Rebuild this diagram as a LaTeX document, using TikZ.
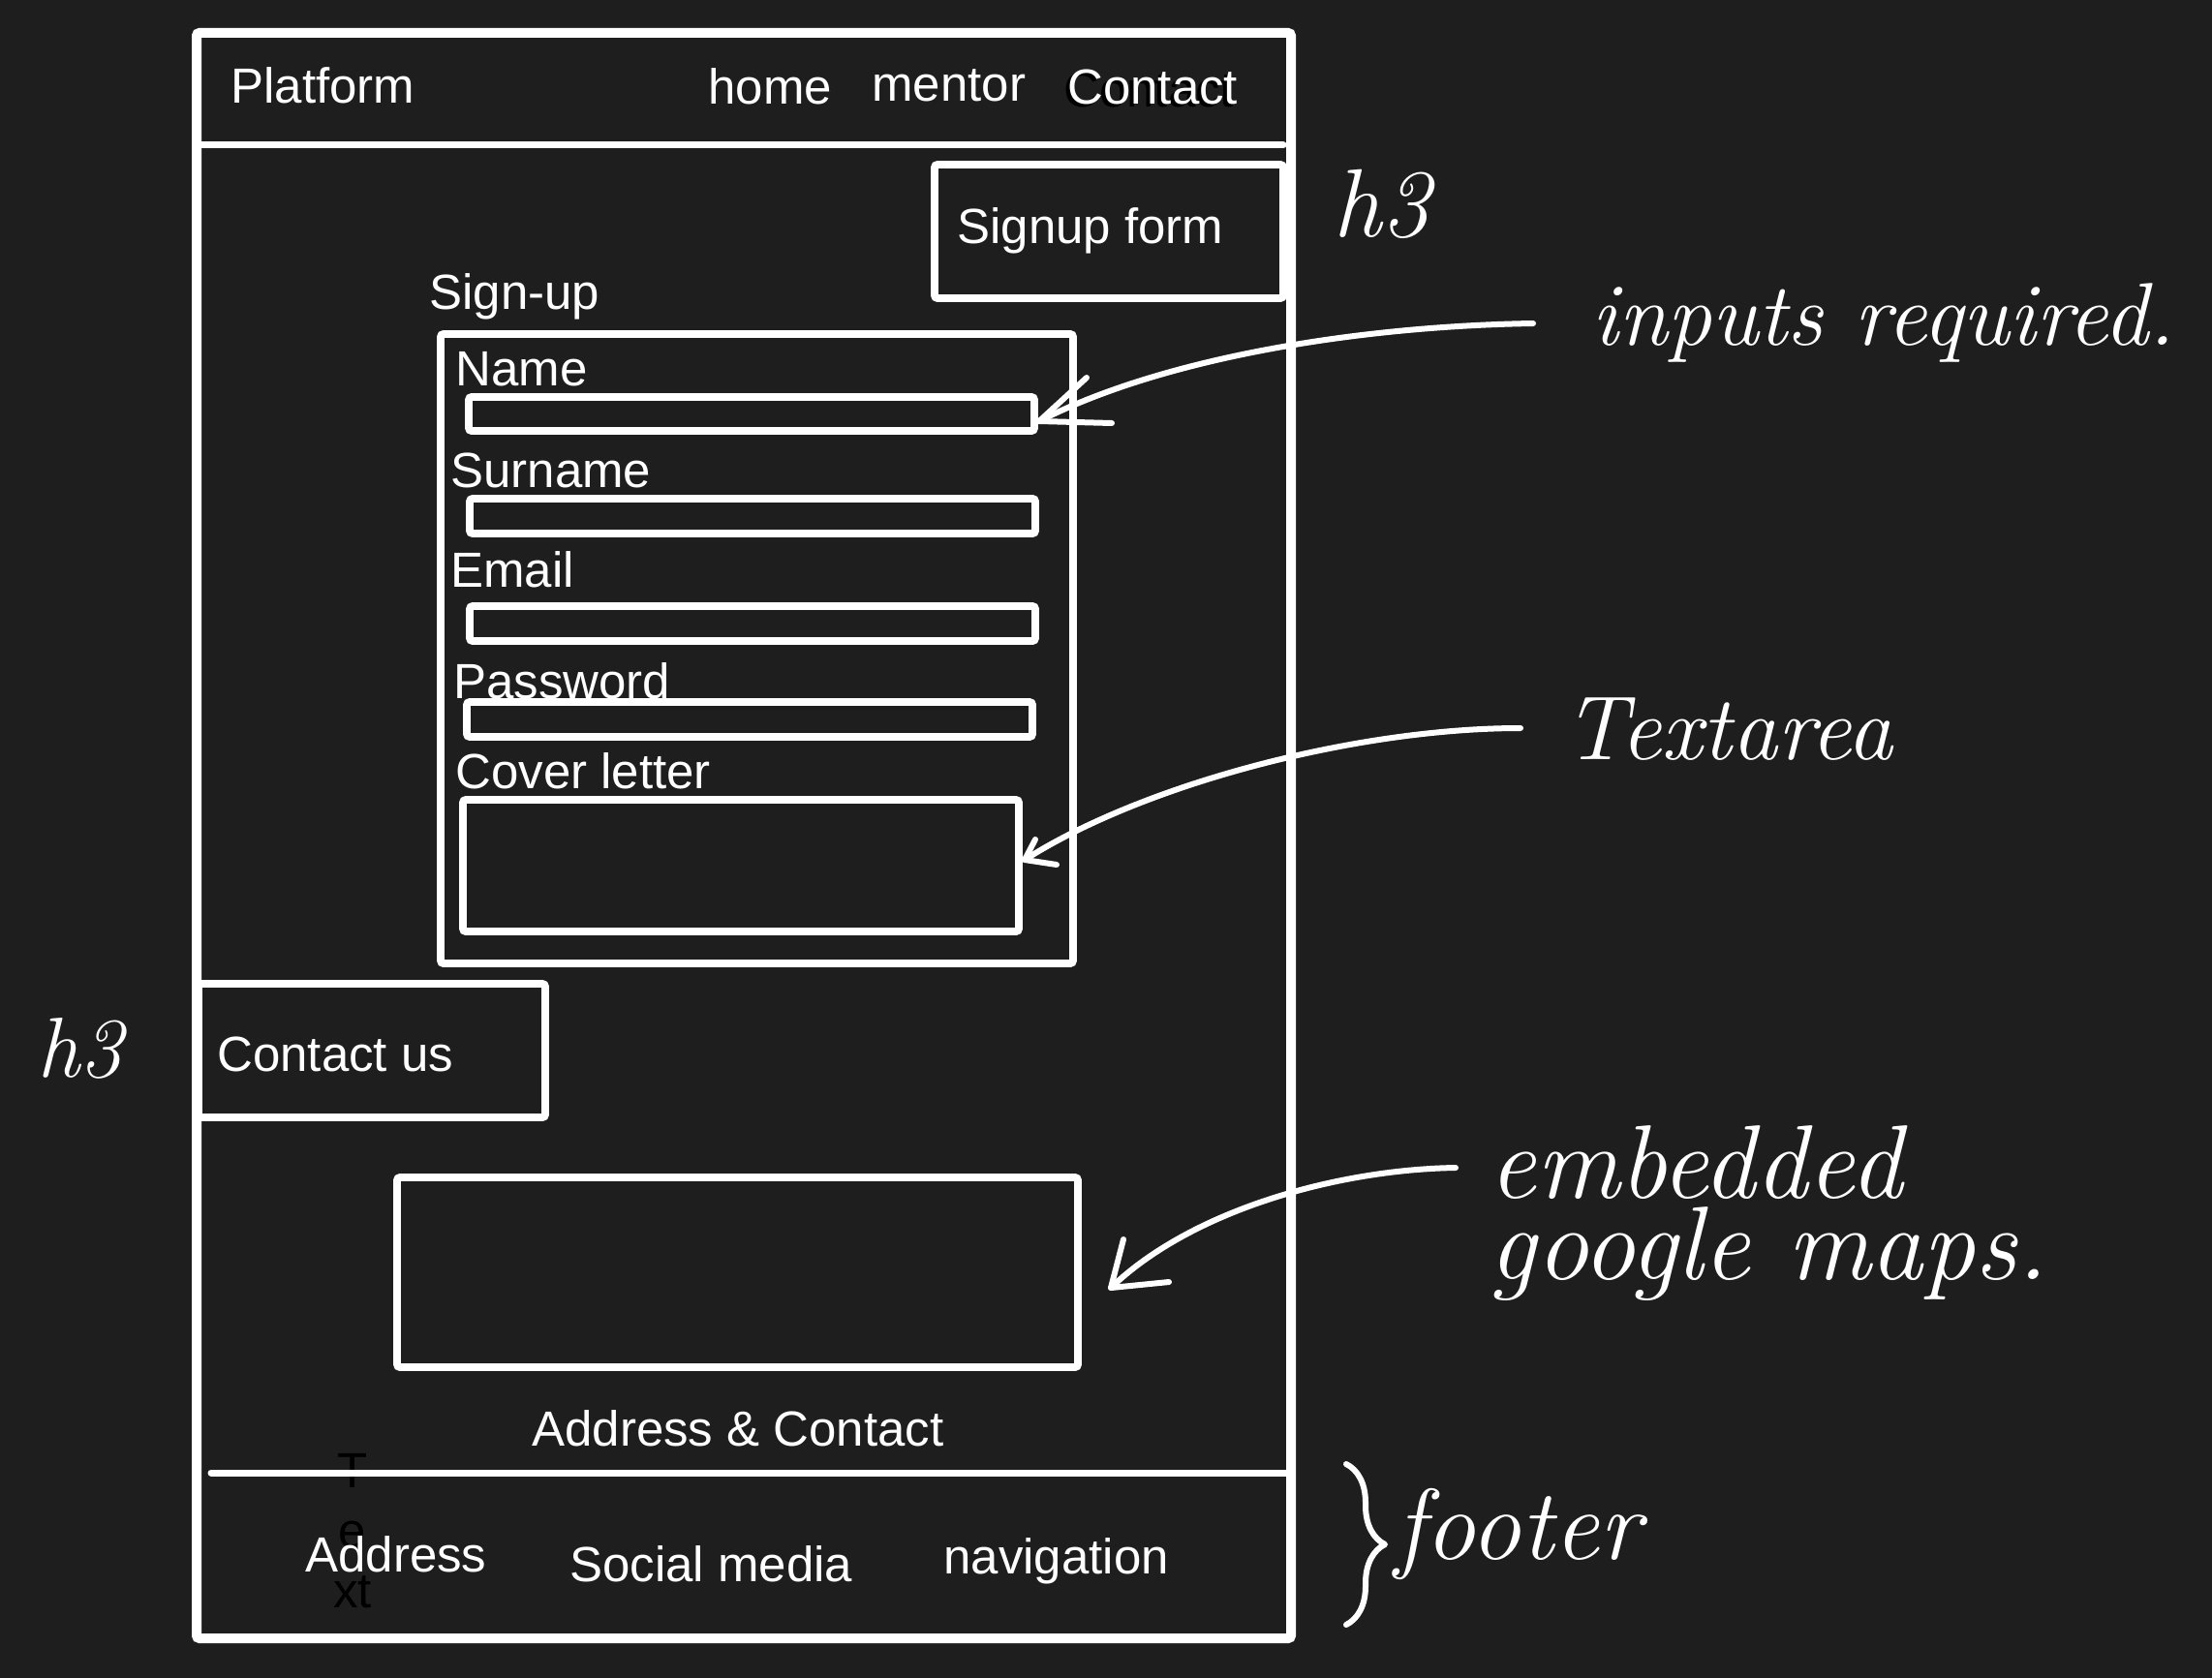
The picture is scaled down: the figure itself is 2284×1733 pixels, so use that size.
\documentclass[tikz,border=0pt]{standalone}
\usepackage{fontspec}
\newfontfamily\lib{Liberation Sans}
\usetikzlibrary{fit,decorations.pathreplacing}
\definecolor{bg}{HTML}{1E1E1E}
\begin{document}
\begin{tikzpicture}[x=0.5pt,y=-0.5pt,
  box/.style={draw=white, line width=3.9pt, rounded corners=1.5pt, inner sep=0pt, outer sep=0pt},
  lbl/.style={text=white, font=\lib\fontsize{25.5}{30}\selectfont, inner sep=0pt, anchor=base west},
  hand/.style={text=white, inner sep=0pt, anchor=base west},
  pen/.style={draw=white, line width=3pt, line cap=round, line join=round},
  rule/.style={draw=white, line width=3.5pt, line cap=round},
]
\fill[bg] (0,0) rectangle (2284,1733);
\useasboundingbox (0,0) rectangle (2284,1733);

% page frame and header
\node[box, line width=5pt, fit={(203,34) (1333,1692)}] (frame) {};
\coordinate (navL) at (207,150);
\coordinate (navR) at (1325,150);
\draw[rule] (navL) -- (navR);
\node[lbl] (platform) at (238,107) {Platform};
\node[lbl] (home) at (731,108) {home};
\node[lbl] (mentor) at (900,105) {mentor};
\node[lbl, text=black] (contactsh) at (1098,111) {Contact};
\node[lbl] (contact) at (1102,108) {Contact};

% signup section
\node[box, fit={(965,170) (1325,308)}] (signupbox) {};
\node[lbl] (signuptitle) at (988,252) {Signup form};
\node[lbl] (signup) at (443,320) {Sign-up};
\node[box, fit={(455,345) (1108,995)}] (form) {};
\node[lbl] (lname) at (470,399) {Name};
\node[box, fit={(484,410) (1068,445)}] (fname) {};
\node[lbl] (lsurname) at (465,503) {Surname};
\node[box, fit={(485,515) (1069,551)}] (fsurname) {};
\node[lbl] (lemail) at (465,606) {Email};
\node[box, fit={(485,626) (1069,662)}] (femail) {};
\node[box, fit={(482,725) (1066,761)}] (fpass) {};
\node[lbl] (lpass) at (468,721) {Password};
\node[lbl] (lcover) at (470,814) {Cover letter};
\node[box, fit={(478,826) (1052,962)}] (fcover) {};

% contact section
\node[box, fit={(205,1016) (563,1154)}] (contactus) {};
\node[lbl] (contactustxt) at (224,1106) {Contact us};
\node[box, fit={(410,1216) (1113,1412)}] (map) {};
\node[lbl] (addrcontact) at (549,1493) {Address \& Contact};

% footer
\node[text=black, font=\lib\fontsize{25.5}{31}\selectfont, align=center, inner sep=0pt, anchor=north] (blktext) at (364,1501) {T\\e\\xt};
\coordinate (footL) at (218,1521);
\coordinate (footR) at (1328,1521);
\draw[rule] (footL) -- (footR);
\node[lbl] (address) at (315,1623) {Address};
\node[lbl] (social) at (588,1633) {Social media};
\node[lbl] (navigation) at (974,1625) {navigation};

% handwritten notes
\node[hand, font=\itshape\fontsize{50}{60}\selectfont] (h3a) at (1376,245) {h3};
\node[hand, font=\itshape\fontsize{44}{52}\selectfont] (h3b) at (38,1112) {h3};
\node[hand, font=\itshape\fontsize{46}{52}\selectfont] (ninputs) at (1643,357) {inputs required.};
\node[hand, font=\itshape\fontsize{47}{54}\selectfont] (ntextarea) at (1614,784) {Textarea};
\node[hand, font=\itshape\fontsize{54}{42}\selectfont, align=left, anchor=north west] (nmaps) at (1537,1162) {embedded\\google maps.};
\node[hand, font=\itshape\fontsize{52}{60}\selectfont] (nfooter) at (1440,1610) {footer};
\coordinate (br1) at (1390,1512);
\coordinate (br2) at (1390,1678);
\draw[pen, decorate, decoration={brace, amplitude=20pt}] (br1) -- (br2);

% arrows
\coordinate (s1) at (1583,334);
\coordinate (t1) at (1073,435);
\draw[pen] (s1) .. controls (1400,337) and (1200,370) .. (t1);
\draw[pen] (t1) ++(49,-45) -- (t1) -- ++(75,2);

\coordinate (s2) at (1570,752);
\coordinate (t2) at (1058,888);
\draw[pen] (s2) .. controls (1400,752) and (1180,810) .. (t2);
\draw[pen] (t2) ++(11,-21) -- (t2) -- ++(33,5);

\coordinate (s3) at (1503,1206);
\coordinate (t3) at (1147,1330);
\draw[pen] (s3) .. controls (1380,1208) and (1230,1250) .. (t3);
\draw[pen] (t3) ++(13,-50) -- (t3) -- ++(60,-6);
\end{tikzpicture}
\end{document}
